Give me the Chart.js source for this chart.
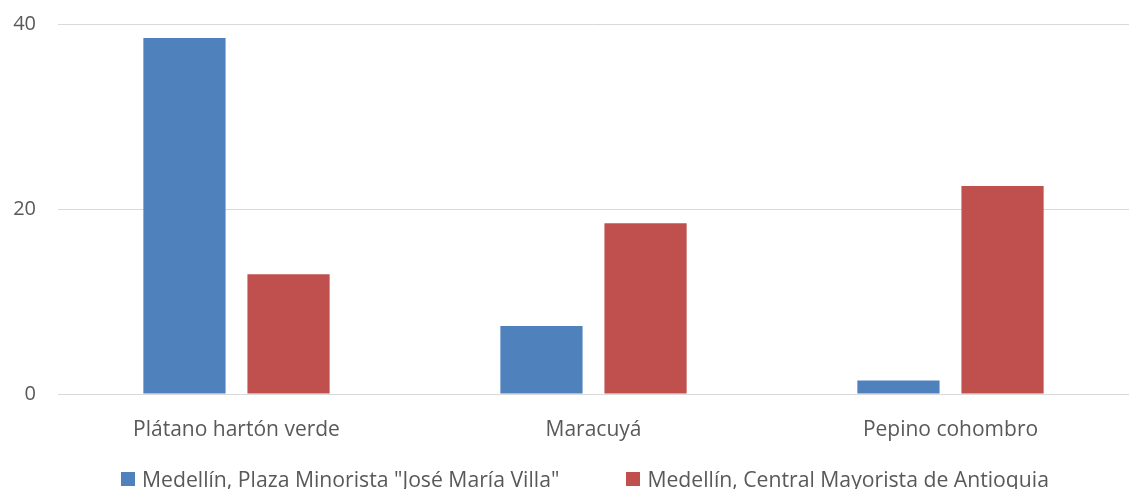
<!DOCTYPE html>
<html>
<head>
<meta charset="utf-8">
<script src="https://cdn.jsdelivr.net/npm/chart.js@4/dist/chart.umd.min.js"></script>
<style>
  html, body { margin: 0; padding: 0; background: #fff; }
  #wrap { width: 1129px; height: 489px; position: relative; }
  #legend { position: absolute; left: 121px; top: 467px; display: flex; align-items: center; line-height: 24px;
            font-family: "Open Sans", "Liberation Sans", sans-serif; font-size: 21.2px; color: #595959; white-space: nowrap; }
  .item { display: flex; align-items: center; margin-right: 67px; }
  .swatch { width: 14px; height: 14px; margin-right: 7px; }
</style>
</head>
<body>
<div id="wrap"><canvas id="marketChart"></canvas><div id="legend"></div></div>
<script>
const products = ['Plátano hartón verde', 'Maracuyá', 'Pepino cohombro'];
const minoristaValues = [38.5, 7.35, 1.45];
const mayoristaValues = [12.95, 18.45, 22.5];
const seriesNames = ['Medellín, Plaza Minorista "José María Villa"', 'Medellín, Central Mayorista de Antioquia'];
const seriesColors = ['#4F81BD', '#C0504D'];
const yTicks = [0, 20, 40];

const ctx = document.getElementById('marketChart').getContext('2d');
Chart.defaults.font.family = '"Open Sans", "Liberation Sans", sans-serif';
Chart.defaults.color = '#595959';

const marketChart = new Chart(ctx, {
  type: 'bar',
  data: {
    labels: products,
    datasets: [{
      label: seriesNames[0],
      data: minoristaValues,
      backgroundColor: seriesColors[0],
      borderWidth: 0
    },
    {
      label: seriesNames[1],
      data: mayoristaValues,
      backgroundColor: seriesColors[1],
      borderWidth: 0
    }]
  },
  options: {
    responsive: true,
    maintainAspectRatio: false,
    animation: false,
    categoryPercentage: 0.583,
    barPercentage: 0.79,
    layout: {
      padding: { left: 11, right: 0, top: 24, bottom: 35 }
    },
    plugins: {
      legend: { display: false },
      tooltip: { enabled: false }
    },
    scales: {
      x: {
        grid: { display: false },
        border: { display: false },
        ticks: { font: { size: 21 }, padding: 15, color: '#595959' },
        afterFit: (s) => { s.paddingLeft = 0; s.paddingRight = 0; s.height = 60; }
      },
      y: {
        min: 0,
        max: 40,
        afterBuildTicks: (axis) => { axis.ticks = yTicks.map(v => ({ value: v })); },
        afterFit: (s) => { s.width = 47; s.paddingTop = 0; s.paddingBottom = 0; },
        grid: { color: '#d9d9d9', lineWidth: 1, drawTicks: false },
        border: { display: false },
        ticks: { font: { size: 20 }, padding: 22, color: '#595959' }
      }
    }
  }
});

// legend built from the chart's own datasets
const legendEl = document.getElementById('legend');
marketChart.data.datasets.forEach(ds => {
  const item = document.createElement('div');
  item.className = 'item';
  const sw = document.createElement('span');
  sw.className = 'swatch';
  sw.style.background = ds.backgroundColor;
  const txt = document.createElement('span');
  txt.textContent = ds.label;
  item.appendChild(sw);
  item.appendChild(txt);
  legendEl.appendChild(item);
});
</script>
</body>
</html>
